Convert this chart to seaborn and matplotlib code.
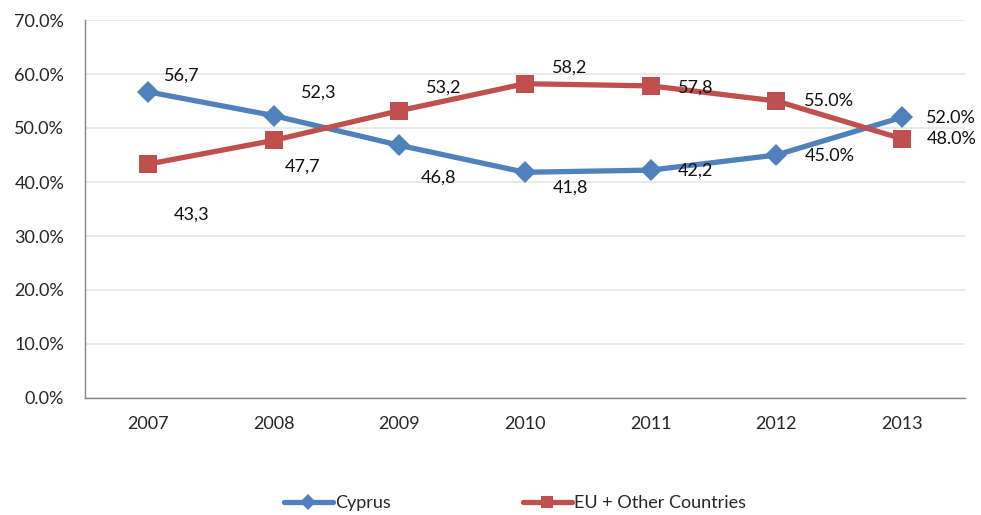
import pandas as pd
import seaborn as sns
import matplotlib
matplotlib.use("Agg")
import matplotlib.pyplot as plt
from matplotlib.ticker import FixedLocator

# 데이터
years = [2007, 2008, 2009, 2010, 2011, 2012, 2013]
cyprus = [56.7, 52.3, 46.8, 41.8, 42.2, 45.0, 52.0]
eu_other = [43.3, 47.7, 53.2, 58.2, 57.8, 55.0, 48.0]
cyprus_labels = ["56,7", "52,3", "46,8", "41,8", "42,2", "45.0%", "52.0%"]
eu_labels = ["43,3", "47,7", "53,2", "58,2", "57,8", "55.0%", "48.0%"]
y_ticks = [0, 10, 20, 30, 40, 50, 60, 70]

# 라벨 위치 (픽셀 오프셋)
cyprus_offsets = [(34, 16), (45, 23), (39, -32), (45, -15), (45, -1), (53, -1), (49, -1)]
eu_offsets = [(44, -50), (29, -26), (44, 23), (45, 16), (45, -2), (53, 0), (50, 0)]

sns.set_style("white")
plt.rcParams["font.family"] = ["Lato", "DejaVu Sans"]
fs = 13

df = pd.DataFrame({"year": years * 2,
                   "value": cyprus + eu_other,
                   "series": ["Cyprus"] * 7 + ["EU + Other Countries"] * 7})

fig = plt.figure(figsize=(9.81, 5.15), dpi=100)
ax = fig.add_axes([85 / 981, 1 - 398 / 515, 880 / 981, 378 / 515])

styles = {"Cyprus": ("#4F81BD", "D", 11.5), "EU + Other Countries": ("#C0504D", "s", 13)}
for name, (color, marker, ms) in styles.items():
    sns.lineplot(data=df[df.series == name], x="year", y="value", ax=ax, color=color,
                 marker=marker, markersize=ms, markeredgewidth=0, linewidth=3.8,
                 label=name, zorder=3)

for vals, labels, offs in [(cyprus, cyprus_labels, cyprus_offsets), (eu_other, eu_labels, eu_offsets)]:
    for x, v, lab, off in zip(years, vals, labels, offs):
        ax.annotate(lab, (x, v), xytext=off, textcoords="offset pixels",
                    ha="center", va="center", fontsize=fs, color="#111111", zorder=4)

ax.set_xlim(2006.5, 2013.5)
ax.set_ylim(0, 70)
ax.set_xticks(years)
ax.set_xticklabels([str(y) for y in years], fontsize=fs)
ax.xaxis.set_minor_locator(FixedLocator([y + 0.5 for y in range(2006, 2014)]))
ax.tick_params(axis="x", which="major", length=0, pad=13)
ax.tick_params(axis="x", which="minor", length=5, color="#868686", width=1)
ax.set_yticks(y_ticks)
ax.set_yticklabels([f"{t:.1f}%" for t in y_ticks], fontsize=fs)
ax.tick_params(axis="y", length=5, color="#868686", width=1, pad=10)
ax.grid(axis="y", color="#e6e6e6", linewidth=1.2, zorder=0)
ax.set_axisbelow(True)
for side in ["top", "right"]:
    ax.spines[side].set_visible(False)
for side in ["left", "bottom"]:
    ax.spines[side].set_color("#868686")
    ax.spines[side].set_linewidth(1)
ax.set_xlabel("")
ax.set_ylabel("")

ax.legend(loc="center", bbox_to_anchor=(515 / 981, 12 / 515), bbox_transform=fig.transFigure,
          ncol=2, frameon=False, fontsize=fs, handlelength=2.7, handletextpad=0.15,
          columnspacing=7.3, markerscale=0.7)

fig.savefig("out.png", dpi=100)
